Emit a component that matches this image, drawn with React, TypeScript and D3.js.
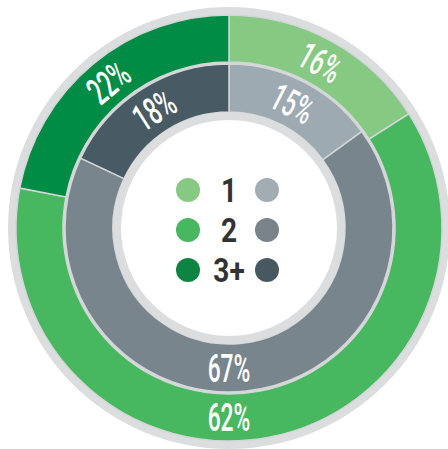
import { useEffect, useRef } from 'react'
import * as d3 from 'd3'

// outer ring (green) and inner ring (gray)
const categories = ['1', '2', '3+']
const outerValues = [16, 62, 22]
const innerValues = [15, 67, 18]
const greenColors = ['#86c982', '#47b760', '#008c44']
const grayColors = ['#9eaab2', '#78858c', '#485a63']
const legendGreen = ['#86c982', '#47b760', '#0e8442']
const legendGray = ['#a2adb3', '#7a838a', '#485860']

const width = 448
const height = 449

export default function App() {
  const svgRef = useRef<SVGSVGElement>(null)

  useEffect(() => {
    if (!svgRef.current) return
    const svg = d3.select(svgRef.current)
    svg.selectAll('*').remove()

    const cx = 229
    const cy = 228
    const g = svg.append('g').attr('transform', `translate(${cx},${cy})`)

    // light gray frames
    g.append('circle').attr('r', 221).attr('fill', '#dcdddf')
    g.append('circle').attr('r', 165).attr('fill', '#d6d8da')

    const pie = d3.pie<number>().sort(null).value((d) => d)

    const rings = [
      { values: outerValues, colors: greenColors, inner: 166, outer: 213 },
      { values: innerValues, colors: grayColors, inner: 116, outer: 164 },
    ]

    rings.forEach((ring) => {
      const arcs = pie(ring.values)
      const arc = d3.arc<d3.PieArcDatum<number>>()
        .innerRadius(ring.inner)
        .outerRadius(ring.outer)

      g.append('g')
        .selectAll('path')
        .data(arcs)
        .join('path')
        .attr('d', arc)
        .attr('fill', (_d, i) => ring.colors[i])
        .attr('stroke', '#d3d6d8')
        .attr('stroke-width', 1.5)

      const mid = (ring.inner + ring.outer) / 2
      const labels = g.append('g')
        .selectAll('g')
        .data(arcs)
        .join('g')
        .attr('transform', (d) => {
          // big slices get their label at the bottom, upright
          const a = d.endAngle - d.startAngle > Math.PI ? Math.PI : (d.startAngle + d.endAngle) / 2
          const x = Math.sin(a) * mid
          const y = -Math.cos(a) * mid
          let rot = (a * 180) / Math.PI
          if (rot > 90 && rot < 270) rot -= 180
          if (rot >= 270) rot -= 360
          return `translate(${x},${y}) rotate(${rot})`
        })

      labels.append('text')
        .attr('transform', 'scale(0.6,1)')
        .attr('text-anchor', 'middle')
        .attr('dy', '0.36em')
        .attr('font-family', 'Roboto, sans-serif')
        .attr('font-weight', 500)
        .attr('font-size', 38)
        .attr('fill', '#ffffff')
        .text((d) => `${d.data}%`)
    })

    // center
    g.append('circle').attr('r', 116).attr('fill', '#dcdddf')
    g.append('circle').attr('r', 108).attr('fill', '#ffffff')

    const rowY = d3.scaleBand<string>().domain(categories).range([-58, 62])
    const legend = g.append('g')
      .selectAll('g')
      .data(categories)
      .join('g')
      .attr('transform', (d) => `translate(0,${(rowY(d) ?? 0) + rowY.bandwidth() / 2})`)

    legend.append('circle')
      .attr('cx', -41)
      .attr('r', 12)
      .attr('fill', (_d, i) => legendGreen[i])
    legend.append('circle')
      .attr('cx', 38)
      .attr('r', 12)
      .attr('fill', (_d, i) => legendGray[i])
    legend.append('text')
      .attr('transform', 'scale(0.85,1)')
      .attr('text-anchor', 'middle')
      .attr('dy', '0.36em')
      .attr('font-family', 'Roboto, sans-serif')
      .attr('font-weight', 700)
      .attr('font-size', 33)
      .attr('fill', '#333333')
      .text((d) => d)
  }, [])

  return (
    <svg
      ref={svgRef}
      width={width}
      height={height}
      style={{ position: 'absolute', left: 0, top: 0, background: '#ffffff' }}
    />
  )
}
